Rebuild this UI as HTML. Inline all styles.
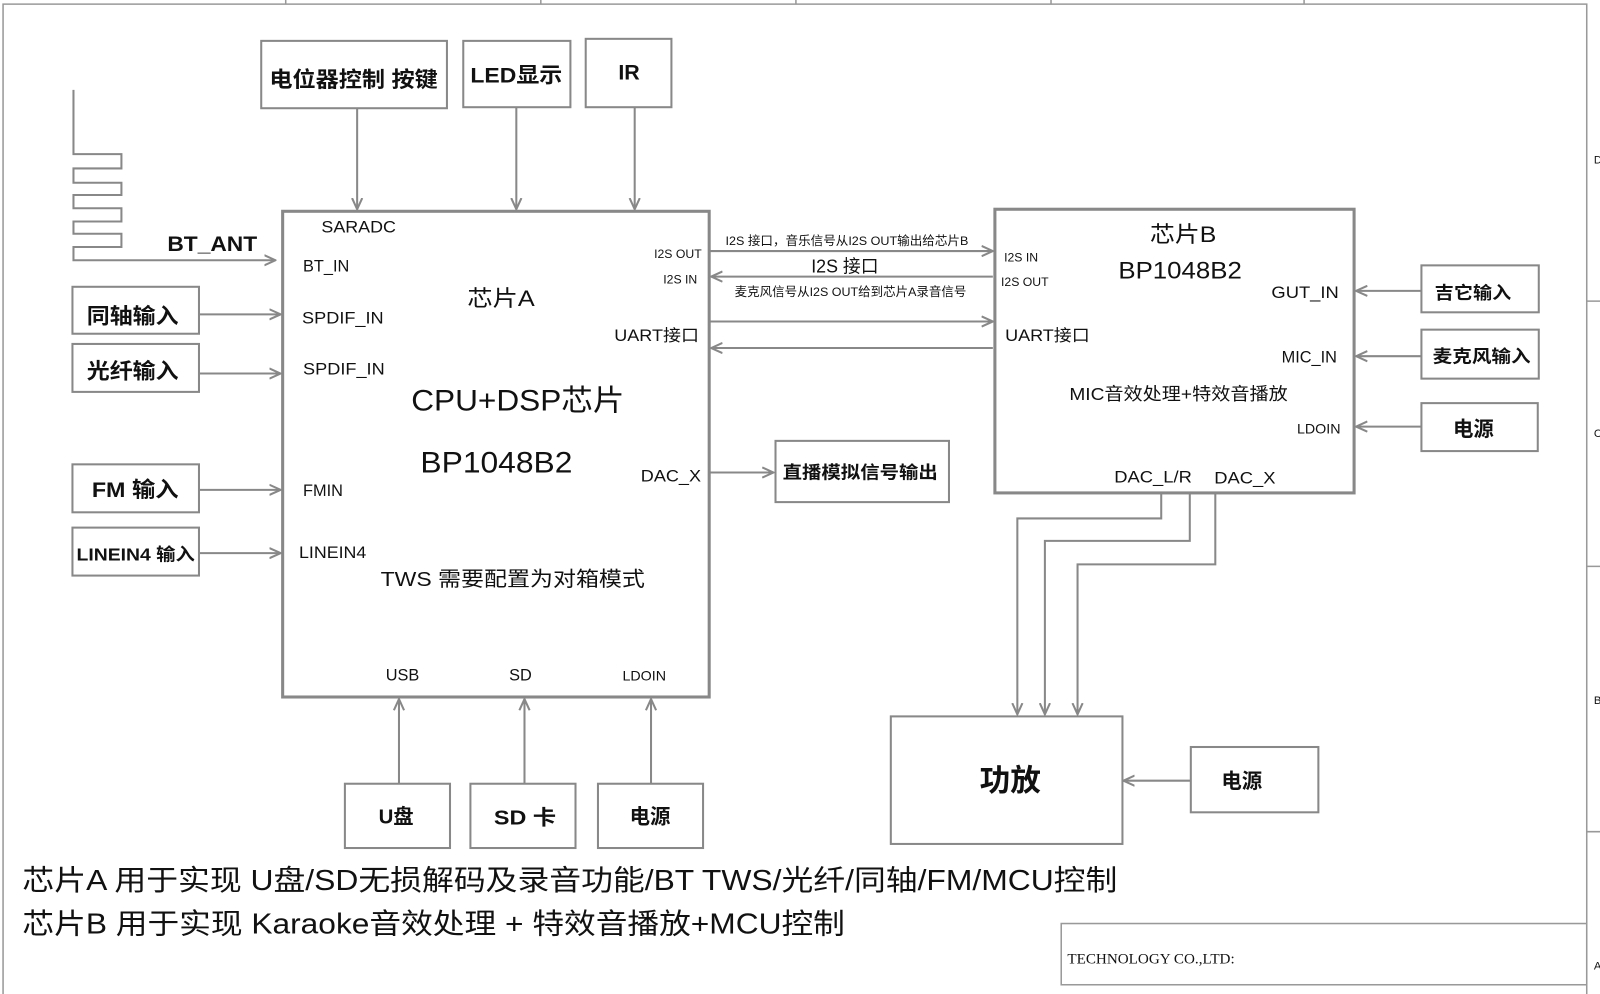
<!DOCTYPE html>
<html><head><meta charset="utf-8"><style>
html,body{margin:0;padding:0;background:#fff;width:1600px;height:994px;overflow:hidden}
svg{display:block}
text{font-family:"Liberation Sans","Noto Sans CJK SC",sans-serif;fill:#111}
.b{font-weight:bold}
</style></head><body>
<svg width="1600" height="994" viewBox="0 0 1568 974" xmlns="http://www.w3.org/2000/svg">
<defs>
<marker id="a" viewBox="0 0 12 12" refX="11" refY="6" markerWidth="12" markerHeight="12" markerUnits="userSpaceOnUse" orient="auto">
<path d="M0,1 L11,6 L0,11" fill="none" stroke="#888" stroke-width="2"/>
</marker>
</defs>
<g fill="none" stroke="#999" stroke-width="1.5">
<path d="M3,974 V4 H1555 V974"/>
<path d="M280,0V4 M530,0V4 M780,0V4 M1030,0V4 M1278,0V4"/>
<path d="M1555,295H1568 M1555,555H1568 M1555,815H1568"/>
<rect x="1040" y="905" width="515" height="60"/>
</g>
<text x="1562" y="160" font-size="11">D</text>
<text x="1562" y="428" font-size="11">C</text>
<text x="1562" y="690" font-size="11">B</text>
<text x="1562" y="950" font-size="11">A</text>
<text x="1046" y="944" font-size="14" textLength="164" lengthAdjust="spacingAndGlyphs" style="font-family:'Liberation Serif',serif">TECHNOLOGY CO.,LTD:</text>

<g fill="none" stroke="#888" stroke-width="2">
<path d="M72,88 V151 H119 V165 H72 V179 H119 V191 H72 V204 H119 V217 H72 V229 H119 V242 H72 V255 H270" marker-end="url(#a)"/>
<rect x="256" y="40" width="182" height="66"/>
<rect x="454" y="40" width="105" height="65"/>
<rect x="574" y="38" width="84" height="67"/>
<rect x="71" y="281" width="124" height="46"/>
<rect x="71" y="337" width="124" height="47"/>
<rect x="71" y="455" width="124" height="47"/>
<rect x="71" y="517" width="124" height="47"/>
<rect x="760" y="432" width="170" height="60"/>
<rect x="1393" y="260" width="115" height="46"/>
<rect x="1393" y="323" width="115" height="48"/>
<rect x="1393" y="395" width="114" height="47"/>
<rect x="873" y="702" width="227" height="125"/>
<rect x="1167" y="732" width="125" height="64"/>
<rect x="338" y="768" width="103" height="63"/>
<rect x="461" y="768" width="103" height="63"/>
<rect x="586" y="768" width="103" height="63"/>
<path d="M350,106V205" marker-end="url(#a)"/>
<path d="M506,105V205" marker-end="url(#a)"/>
<path d="M622,105V205" marker-end="url(#a)"/>
<path d="M195,308H275" marker-end="url(#a)"/>
<path d="M195,366H275" marker-end="url(#a)"/>
<path d="M195,480H275" marker-end="url(#a)"/>
<path d="M195,542H275" marker-end="url(#a)"/>
<path d="M696,246H973" marker-end="url(#a)"/>
<path d="M973,271H697" marker-end="url(#a)"/>
<path d="M696,315H973" marker-end="url(#a)"/>
<path d="M973,341H697" marker-end="url(#a)"/>
<path d="M696,463H758" marker-end="url(#a)"/>
<path d="M1393,285H1329" marker-end="url(#a)"/>
<path d="M1393,349H1329" marker-end="url(#a)"/>
<path d="M1393,418H1329" marker-end="url(#a)"/>
<path d="M1138,483V508H997V700" marker-end="url(#a)"/>
<path d="M1166,483V530H1024V700" marker-end="url(#a)"/>
<path d="M1191,483V553H1056V700" marker-end="url(#a)"/>
<path d="M1167,765H1101" marker-end="url(#a)"/>
<path d="M391,768V685" marker-end="url(#a)"/>
<path d="M514,768V685" marker-end="url(#a)"/>
<path d="M638,768V685" marker-end="url(#a)"/>
</g>
<g fill="none" stroke="#888" stroke-width="3">
<rect x="277" y="207" width="418" height="476"/>
<rect x="975" y="205" width="352" height="278"/>
</g>

<text x="164" y="246" font-size="21" class="b" textLength="88" lengthAdjust="spacingAndGlyphs">BT_ANT</text>
<text x="264" y="85" font-size="21" class="b" textLength="165" lengthAdjust="spacingAndGlyphs">电位器控制 按键</text>
<text x="461" y="81" font-size="21" class="b" textLength="90" lengthAdjust="spacingAndGlyphs">LED显示</text>
<text x="606" y="78" font-size="21" class="b">IR</text>
<text x="85" y="317" font-size="21" class="b" textLength="90" lengthAdjust="spacingAndGlyphs">同轴输入</text>
<text x="85" y="371" font-size="21" class="b" textLength="90" lengthAdjust="spacingAndGlyphs">光纤输入</text>
<text x="90" y="487" font-size="21" class="b" textLength="85" lengthAdjust="spacingAndGlyphs">FM 输入</text>
<text x="75" y="549" font-size="17" class="b" textLength="116" lengthAdjust="spacingAndGlyphs">LINEIN4 输入</text>
<text x="767" y="469" font-size="17" class="b" textLength="152" lengthAdjust="spacingAndGlyphs">直播模拟信号输出</text>
<text x="1406" y="293" font-size="17" class="b" textLength="75" lengthAdjust="spacingAndGlyphs">吉它输入</text>
<text x="1404" y="355" font-size="17" class="b" textLength="96" lengthAdjust="spacingAndGlyphs">麦克风输入</text>
<text x="1424" y="427" font-size="20" class="b">电源</text>
<text x="960" y="775" font-size="30" class="b">功放</text>
<text x="1197" y="772" font-size="20" class="b">电源</text>
<text x="371" y="807" font-size="20" class="b">U盘</text>
<text x="484" y="808" font-size="20" class="b" textLength="61" lengthAdjust="spacingAndGlyphs">SD 卡</text>
<text x="617" y="807" font-size="20" class="b">电源</text>

<g font-size="16">
<text x="315" y="228" textLength="73" lengthAdjust="spacingAndGlyphs">SARADC</text>
<text x="297" y="266">BT_IN</text>
<text x="296" y="317" textLength="80" lengthAdjust="spacingAndGlyphs">SPDIF_IN</text>
<text x="297" y="367" textLength="80" lengthAdjust="spacingAndGlyphs">SPDIF_IN</text>
<text x="297" y="486">FMIN</text>
<text x="293" y="547" textLength="66" lengthAdjust="spacingAndGlyphs">LINEIN4</text>
<text x="378" y="667">USB</text>
<text x="499" y="667">SD</text>
<text x="610" y="667" font-size="14">LDOIN</text>
<text x="602" y="334" textLength="83" lengthAdjust="spacingAndGlyphs">UART接口</text>
<text x="628" y="472" textLength="59" lengthAdjust="spacingAndGlyphs">DAC_X</text>
<text x="985" y="334" textLength="83" lengthAdjust="spacingAndGlyphs">UART接口</text>
<text x="1246" y="292" textLength="66" lengthAdjust="spacingAndGlyphs">GUT_IN</text>
<text x="1256" y="355">MIC_IN</text>
<text x="1271" y="425" font-size="14">LDOIN</text>
<text x="1092" y="473" textLength="76" lengthAdjust="spacingAndGlyphs">DAC_L/R</text>
<text x="1190" y="474" textLength="60" lengthAdjust="spacingAndGlyphs">DAC_X</text>
</g>
<g font-size="12">
<text x="641" y="253">I2S OUT</text>
<text x="650" y="278">I2S IN</text>
<text x="984" y="256">I2S IN</text>
<text x="981" y="280">I2S OUT</text>
<text x="711" y="240" textLength="238" lengthAdjust="spacingAndGlyphs">I2S 接口，音乐信号从I2S OUT输出给芯片B</text>
<text x="720" y="290" textLength="227" lengthAdjust="spacingAndGlyphs">麦克风信号从I2S OUT给到芯片A录音信号</text>
</g>
<text x="795" y="267" font-size="18" textLength="66" lengthAdjust="spacingAndGlyphs">I2S 接口</text>
<text x="458" y="300" font-size="22" textLength="66" lengthAdjust="spacingAndGlyphs">芯片A</text>
<text x="403" y="402" font-size="29" textLength="209" lengthAdjust="spacingAndGlyphs">CPU+DSP芯片</text>
<text x="412" y="463" font-size="29" textLength="149" lengthAdjust="spacingAndGlyphs">BP1048B2</text>
<text x="373" y="574" font-size="20" textLength="259" lengthAdjust="spacingAndGlyphs">TWS 需要配置为对箱模式</text>
<text x="1127" y="237" font-size="22" textLength="65" lengthAdjust="spacingAndGlyphs">芯片B</text>
<text x="1096" y="273" font-size="24" textLength="121" lengthAdjust="spacingAndGlyphs">BP1048B2</text>
<text x="1048" y="392" font-size="17" textLength="214" lengthAdjust="spacingAndGlyphs">MIC音效处理+特效音播放</text>
<text x="22" y="872" font-size="28" textLength="1073" lengthAdjust="spacingAndGlyphs">芯片A 用于实现 U盘/SD无损解码及录音功能/BT TWS/光纤/同轴/FM/MCU控制</text>
<text x="22" y="915" font-size="28" textLength="806" lengthAdjust="spacingAndGlyphs">芯片B 用于实现 Karaoke音效处理 + 特效音播放+MCU控制</text>
</svg>
</body></html>
